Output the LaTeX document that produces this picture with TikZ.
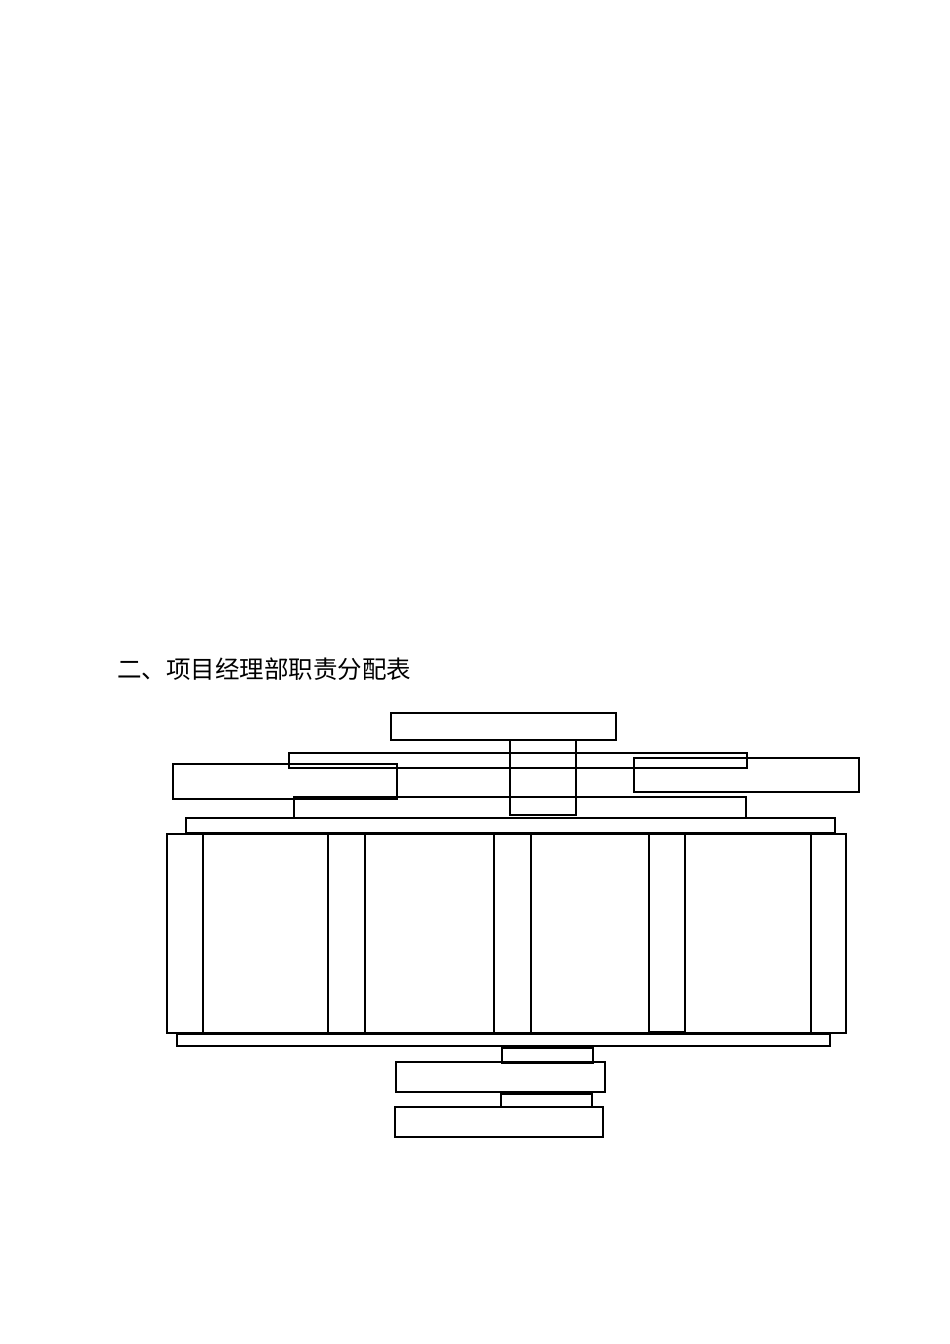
\documentclass[tikz,border=0pt]{standalone}
\usepackage{fontspec}
\newfontfamily\cjk{Noto Sans CJK SC}
\tikzset{
  box/.style={draw=black, line width=1.8pt, inner sep=0pt, outer sep=0pt, fill=none},
  heading/.style={inner sep=0pt, outer sep=0pt, anchor=base west, font=\cjk\fontsize{24.5pt}{28pt}\selectfont}
}
\newcommand{\bx}[5]{\node[box, minimum width=#4pt, minimum height=#5pt] (#1) at (#2,#3) {};}
\begin{document}
\begin{tikzpicture}[x=1pt,y=-1pt]
\useasboundingbox[fill=white] (0,0) rectangle (950,1344);
\node[heading] (title) at (117,678) {二、项目经理部职责分配表};
\bx{top}{503.5}{726.5}{225}{27}
\bx{vert}{543}{777.5}{66}{75}
\bx{thin}{518}{760.5}{458}{15}
\bx{left}{285}{781.5}{224}{35}
\bx{right}{746.5}{775}{225}{34}
\bx{mid}{520}{807.5}{452}{21}
\bx{bar}{510.5}{825.5}{649}{15}
\bx{big}{506.5}{933.5}{679}{199}
\bx{colA}{185}{933.5}{36}{199}
\bx{colB}{346.5}{933.5}{37}{199}
\bx{colC}{512.5}{933.5}{37}{199}
\bx{colD}{667}{933}{36}{198}
\bx{colE}{828.5}{933.5}{35}{199}
\bx{lowbar}{503.5}{1040}{653}{12}
\bx{smallA}{547.5}{1055.5}{91}{15}
\bx{boxA}{500.5}{1077}{209}{30}
\bx{smallB}{546.5}{1100.5}{91}{13}
\bx{boxB}{499}{1122}{208}{30}
\end{tikzpicture}
\end{document}
